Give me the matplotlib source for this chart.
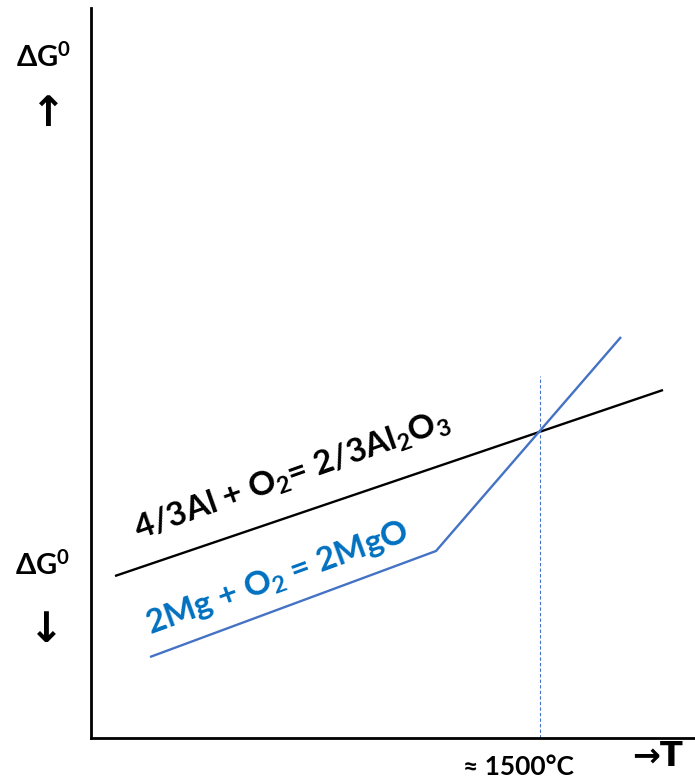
"""Ellingham-type sketch: Al2O3 vs MgO free-energy lines crossing near 1500 C."""
import numpy as np
import matplotlib

matplotlib.use("Agg")
import matplotlib.pyplot as plt  # noqa: E402

plt.rcParams["font.family"] = ["Lato", "DejaVu Sans"]
plt.rcParams["mathtext.fontset"] = "custom"
plt.rcParams["mathtext.rm"] = "Lato:bold"
plt.rcParams["mathtext.it"] = "Lato:bold"
plt.rcParams["mathtext.bf"] = "Lato:bold"

# data in arbitrary units (T to the right, dG upward)
al_T = [24, 572]
al_G = [162, 348]
mg_T = [59, 345, 530]
mg_G = [81, 187, 401]
T_cross = 449
G_cross = 362

BLACK = "#000000"
BLUE_LINE = "#4472C4"
BLUE_TEXT = "#0070C0"

fig = plt.figure(figsize=(6.95, 7.8), dpi=100)
ax = fig.add_axes([91 / 695, 42 / 780, 604 / 695, 730 / 780])
ax.set_xlim(0, 604)
ax.set_ylim(0, 730)

ax.plot(al_T, al_G, color=BLACK, lw=1.7, solid_capstyle="butt")
ax.plot(mg_T, mg_G, color=BLUE_LINE, lw=1.7, solid_capstyle="butt")
ax.plot([T_cross, T_cross], [0, G_cross], color=BLUE_LINE, lw=0.8, ls=(0, (3, 2)))

for side in ["top", "right"]:
    ax.spines[side].set_visible(False)
for side in ["left", "bottom"]:
    ax.spines[side].set_linewidth(2.0)
ax.set_xticks([])
ax.set_yticks([])

ax.text(201, 262, "4/3Al + O$_2$= 2/3Al$_2$O$_3$", rotation=19.5,
        ha="center", va="center", fontsize=24, fontweight="bold", color=BLACK,
        rotation_mode="anchor")
ax.text(187, 159, "2Mg + O$_2$ = 2MgO", rotation=20,
        ha="center", va="center", fontsize=24, fontweight="bold", color=BLUE_TEXT,
        rotation_mode="anchor")

# y-axis labels (outside the axes)
fig.text(44 / 695, 1 - 57 / 780, "ΔG$^0$", ha="center", va="center",
         fontsize=21, fontweight="bold")
fig.text(48 / 695, 1 - 114 / 780, "↑", ha="center", va="center",
         fontsize=30, fontweight="bold", family=["DejaVu Sans"])
fig.text(43 / 695, 1 - 565 / 780, "ΔG$^0$", ha="center", va="center",
         fontsize=21, fontweight="bold")
fig.text(46 / 695, 1 - 630 / 780, "↓", ha="center", va="center",
         fontsize=30, fontweight="bold", family=["DejaVu Sans"])

# x-axis labels
fig.text(518 / 695, 1 - 767 / 780, "≈ 1500°C", ha="center", va="center",
         fontsize=19, fontweight="bold")
fig.text(657 / 695, 1 - 757 / 780, "→T", ha="center", va="center",
         fontsize=24, fontweight="bold", family=["DejaVu Sans"])

fig.savefig("out.png", dpi=100)
